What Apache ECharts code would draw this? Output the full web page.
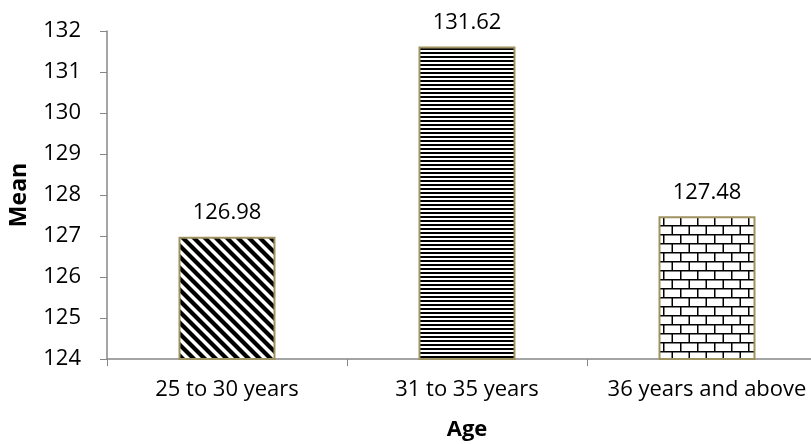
<!DOCTYPE html>
<html><head><meta charset="utf-8">
<script src="https://cdn.jsdelivr.net/npm/echarts@6/dist/echarts.min.js"></script>
<style>html,body{margin:0;padding:0;background:#fff}#c{width:811px;height:444px}</style>
</head><body><div id="c"></div>
<script>
const categories = ['25 to 30 years', '31 to 35 years', '36 years and above'];
const meanValues = [126.98, 131.62, 127.48];
const yTicks = [124, 125, 126, 127, 128, 129, 130, 131, 132];

function mk(w, h, draw) {
  const c = document.createElement('canvas');
  c.width = w; c.height = h;
  const g = c.getContext('2d');
  g.fillStyle = '#fff'; g.fillRect(0, 0, w, h);
  draw(g, w, h);
  return c;
}
const diag = mk(11, 11, (g, w, h) => {
  g.strokeStyle = '#000'; g.lineWidth = 4.2;
  for (let o = -w; o <= w; o += w) {
    g.beginPath(); g.moveTo(o - 2, -2); g.lineTo(o + w + 2, h + 2); g.stroke();
  }
});
const horiz = mk(4, 4, (g) => { g.fillStyle = '#000'; g.fillRect(0, 0, 4, 2); });
const brick = mk(34, 18, (g) => {
  g.fillStyle = '#000';
  g.fillRect(0, 0, 34, 1.5);
  g.fillRect(0, 9, 34, 1.5);
  g.fillRect(0, 0, 1.5, 9);
  g.fillRect(17, 0, 1.5, 9);
  g.fillRect(8.5, 9, 1.5, 9);
  g.fillRect(25.5, 9, 1.5, 9);
});
const patterns = [diag, horiz, brick];

const chart = echarts.init(document.getElementById('c'), null, {renderer: 'canvas'});
const font = '"Open Sans", sans-serif';
chart.setOption({
  animation: false,
  grid: {left: 107, width: 720, top: 31, height: 328, containLabel: false, outerBoundsMode: 'none'},
  xAxis: {
    type: 'category', data: categories,
    name: 'Age', nameLocation: 'middle', nameGap: 60,
    nameTextStyle: {fontFamily: font, fontWeight: 'bold', fontSize: 22, color: '#000'},
    axisLine: {lineStyle: {color: '#878787', width: 1.5}},
    axisTick: {show: true, length: 7, lineStyle: {color: '#878787'}},
    axisLabel: {fontFamily: font, fontSize: 22, color: '#000', margin: 20, interval: 0}
  },
  yAxis: {
    type: 'value', min: yTicks[0], max: yTicks[yTicks.length - 1], interval: 1,
    name: 'Mean', nameLocation: 'middle', nameGap: 76,
    nameTextStyle: {fontFamily: font, fontWeight: 'bold', fontSize: 23, color: '#000'},
    axisLine: {show: true, lineStyle: {color: '#878787', width: 1.5}},
    axisTick: {show: true, length: 7, lineStyle: {color: '#878787'}},
    splitLine: {show: false},
    axisLabel: {fontFamily: font, fontSize: 22, color: '#000', margin: 26}
  },
  series: [{
    type: 'bar', barWidth: 97,
    data: meanValues.map((v, i) => ({
      value: v,
      itemStyle: {color: {image: patterns[i], repeat: 'repeat'}, borderColor: '#9e9360', borderWidth: 2}
    })),
    label: {show: true, position: 'top', distance: 13, fontFamily: font, fontSize: 22, color: '#000',
      formatter: p => p.value.toFixed(2)}
  }]
});
</script></body></html>
